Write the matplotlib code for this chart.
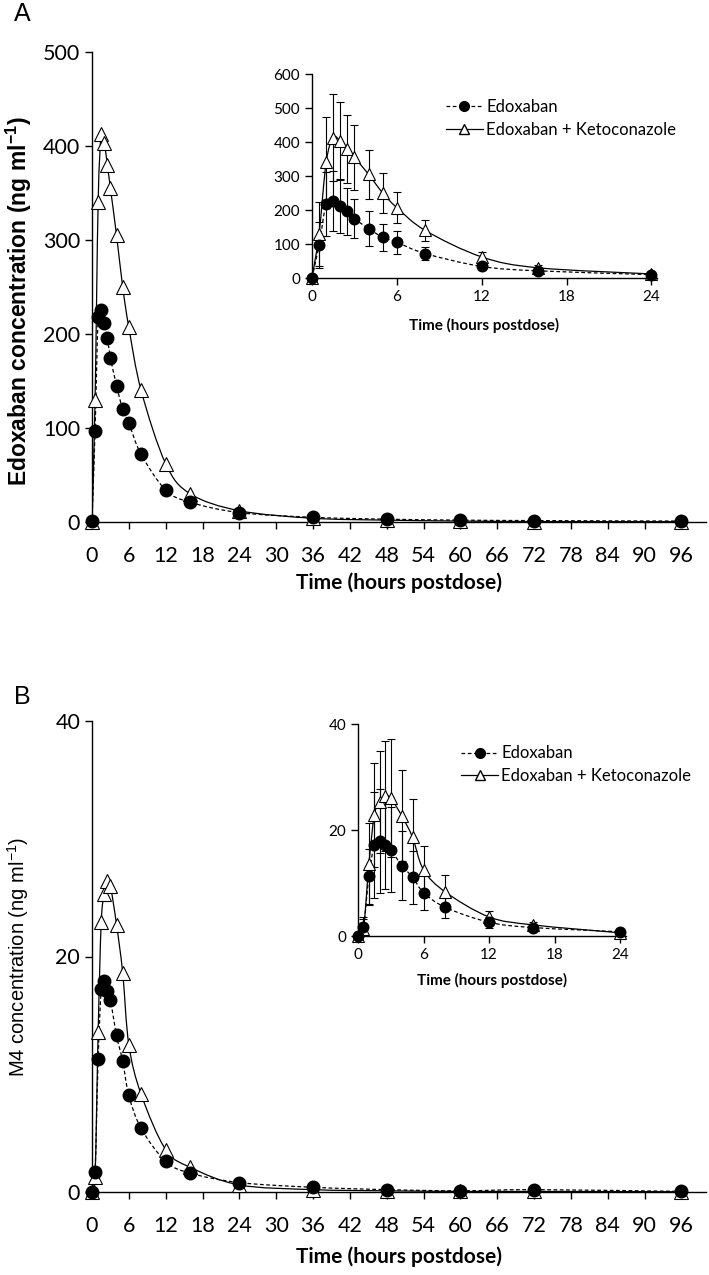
import numpy as np
import matplotlib
matplotlib.use("Agg")
import matplotlib.pyplot as plt
from matplotlib.path import Path
from matplotlib.patches import PathPatch

# sampling times (hours postdose)
hours = [0, 0.5, 1, 1.5, 2, 2.5, 3, 4, 5, 6, 8, 12, 16, 24, 36, 48, 60, 72, 96]
n_inset = 14  # inset shows 0-24 h

# Panel A: edoxaban plasma concentration (ng/ml)
edox_a = [1, 97, 218, 226, 212, 196, 175, 145, 120, 105, 72, 34, 21, 10, 5, 3, 2, 1.5, 1]
keto_a = [0, 130, 340, 413, 403, 380, 355, 305, 250, 207, 140, 62, 30, 12, 4, 2, 1, 0.5, 0.3]
edox_a_sd = [1, 68, 95, 88, 80, 70, 58, 52, 40, 33, 18, 10, 7, 4]
keto_a_sd = [1, 95, 135, 128, 115, 100, 95, 72, 58, 45, 32, 15, 8, 3]

# Panel B: M4 metabolite concentration (ng/ml)
edox_b = [0, 1.7, 11.3, 17.2, 17.9, 17.1, 16.3, 13.3, 11.1, 8.2, 5.4, 2.6, 1.6, 0.8, 0.4, 0.2, 0.1, 0.2, 0.05]
keto_b = [0, 1.3, 13.6, 22.9, 25.3, 26.4, 26.0, 22.7, 18.6, 12.5, 8.3, 3.6, 2.1, 0.6, 0.2, 0.1, 0.05, 0.05, 0.02]
edox_b_sd = [0.2, 1.5, 5.2, 10.0, 9.8, 8.2, 8.0, 6.5, 5.0, 3.3, 2.0, 1.0, 0.5, 0.3]
keto_b_sd = [0.2, 2.3, 7.8, 9.8, 9.6, 10.3, 11.1, 8.6, 7.3, 4.5, 3.2, 1.2, 0.6, 0.3]

TICK_FONT = "Lato"
LABEL_FONT = "Liberation Sans"
W, H = 709, 1275


def smooth_path(x, y):
    """Excel-style smoothed line: cubic Bezier through the points (Catmull-Rom)"""
    pts = np.column_stack([x, y]).astype(float)
    verts = [pts[0]]
    codes = [Path.MOVETO]
    for i in range(len(pts) - 1):
        p0 = pts[i - 1] if i > 0 else pts[i]
        p1, p2 = pts[i], pts[i + 1]
        p3 = pts[i + 2] if i + 2 < len(pts) else pts[i + 1]
        verts += [p1 + (p2 - p0) / 6.0, p2 - (p3 - p1) / 6.0, p2]
        codes += [Path.CURVE4] * 3
    return Path(verts, codes)


def add_curve(ax, x, y, ls):
    patch = PathPatch(smooth_path(x, y), fill=False, edgecolor="black",
                      linewidth=0.9, linestyle=ls, zorder=2)
    ax.add_patch(patch)


def draw_series(ax, y_e, y_k, ms, sd_e=None, sd_k=None):
    n = len(y_e)
    x = hours[:n]
    add_curve(ax, x, y_k, "-")
    add_curve(ax, x, y_e, (0, (3, 2)))
    if sd_k is not None:
        ax.errorbar(x, y_k, yerr=sd_k, fmt="none", ecolor="black", elinewidth=0.8,
                    capsize=3, capthick=0.8, zorder=3)
        ax.errorbar(x, y_e, yerr=sd_e, fmt="none", ecolor="black", elinewidth=0.8,
                    capsize=3, capthick=0.8, zorder=3)
    ax.plot(x, y_k, linestyle="none", marker="^", ms=ms, mfc="white", mec="black",
            mew=0.8, zorder=4, clip_on=False)
    ax.plot(x, y_e, linestyle="none", marker="o", ms=ms * 0.95, mfc="black", mec="black",
            zorder=5, clip_on=False)


def style_axes(ax, fsize, font):
    for s in ["top", "right"]:
        ax.spines[s].set_visible(False)
    for s in ["left", "bottom"]:
        ax.spines[s].set_linewidth(1.0)
    ax.tick_params(direction="out", length=5, width=1.0, labelsize=fsize)
    for lab in ax.get_xticklabels() + ax.get_yticklabels():
        lab.set_family(font)


def box(left, right, top, bottom):
    # pixel box -> figure fraction rect
    return [left / W, 1 - bottom / H, (right - left) / W, (bottom - top) / H]


def add_legend(ax, anchor):
    ax.legend(
        [plt.Line2D([], [], color="black", lw=0.9, ls=(0, (3, 2)), marker="o", ms=7, mfc="black"),
         plt.Line2D([], [], color="black", lw=0.9, ls="-", marker="^", ms=7, mfc="white")],
        ["Edoxaban", "Edoxaban + Ketoconazole"], loc="upper left", bbox_to_anchor=anchor,
        frameon=False, handlelength=2.2, handletextpad=0.2, labelspacing=0.4,
        prop={"family": TICK_FONT, "size": 12})


fig = plt.figure(figsize=(W / 100, H / 100), dpi=100)

# ---------------- panel A ----------------
axA = fig.add_axes(box(92, 706, 52, 522))
draw_series(axA, edox_a, keto_a, 9.5)
axA.set_xlim(0, 100)
axA.set_ylim(0, 500)
axA.set_xticks(np.arange(0, 97, 6))
axA.set_yticks(np.arange(0, 501, 100))
style_axes(axA, 15.5, TICK_FONT)
axA.tick_params(axis="x", pad=12)
axA.set_xlabel("Time (hours postdose)", family=TICK_FONT, fontweight="bold", fontsize=15)
axA.xaxis.set_label_coords(0.5, -50 / 470, transform=axA.transAxes)
axA.set_ylabel("Edoxaban concentration (ng ml$^{\\mathregular{-1}}$)", family=LABEL_FONT,
               fontweight="bold", fontsize=16.5)
axA.yaxis.set_label_coords(-58 / 614, 0.47)
fig.text(22 / W, 1 - 14 / H, "A", family=LABEL_FONT, fontsize=18, ha="center", va="center")

insA = fig.add_axes(box(312, 657, 74, 278))
draw_series(insA, edox_a[:n_inset], keto_a[:n_inset], 8, edox_a_sd, keto_a_sd)
insA.set_xlim(0, 24.4)
insA.set_ylim(0, 600)
insA.set_xticks([0, 6, 12, 18, 24])
insA.set_yticks(np.arange(0, 601, 100))
style_axes(insA, 11, TICK_FONT)
insA.set_xlabel("Time (hours postdose)", family=TICK_FONT, fontweight="bold",
                fontsize=11, labelpad=10)
add_legend(insA, (0.345, 0.95))

# ---------------- panel B ----------------
axB = fig.add_axes(box(92, 706, 721, 1192))
draw_series(axB, edox_b, keto_b, 9.5)
axB.set_xlim(0, 100)
axB.set_ylim(0, 40)
axB.set_xticks(np.arange(0, 97, 6))
axB.set_yticks([0, 20, 40])
style_axes(axB, 15.5, TICK_FONT)
axB.tick_params(axis="x", pad=12)
axB.set_xlabel("Time (hours postdose)", family=TICK_FONT, fontweight="bold", fontsize=15)
axB.xaxis.set_label_coords(0.5, -54 / 471, transform=axB.transAxes)
axB.set_ylabel("M4 concentration (ng ml$^{\\mathregular{-1}}$)", family=LABEL_FONT,
               fontsize=14.5)
axB.yaxis.set_label_coords(-61 / 614, 0.5)
fig.text(22 / W, 1 - 697 / H, "B", family=LABEL_FONT, fontsize=18, ha="center", va="center")

insB = fig.add_axes(box(358, 625.5, 724, 936))
draw_series(insB, edox_b[:n_inset], keto_b[:n_inset], 8, edox_b_sd, keto_b_sd)
insB.set_xlim(0, 24.5)
insB.set_ylim(0, 40)
insB.set_xticks([0, 6, 12, 18, 24])
insB.set_yticks([0, 20, 40])
style_axes(insB, 11, TICK_FONT)
insB.set_xlabel("Time (hours postdose)", family=TICK_FONT, fontweight="bold",
                fontsize=11, labelpad=8)
add_legend(insB, (0.33, 0.97))

fig.savefig("out.png", dpi=100, facecolor="white")
